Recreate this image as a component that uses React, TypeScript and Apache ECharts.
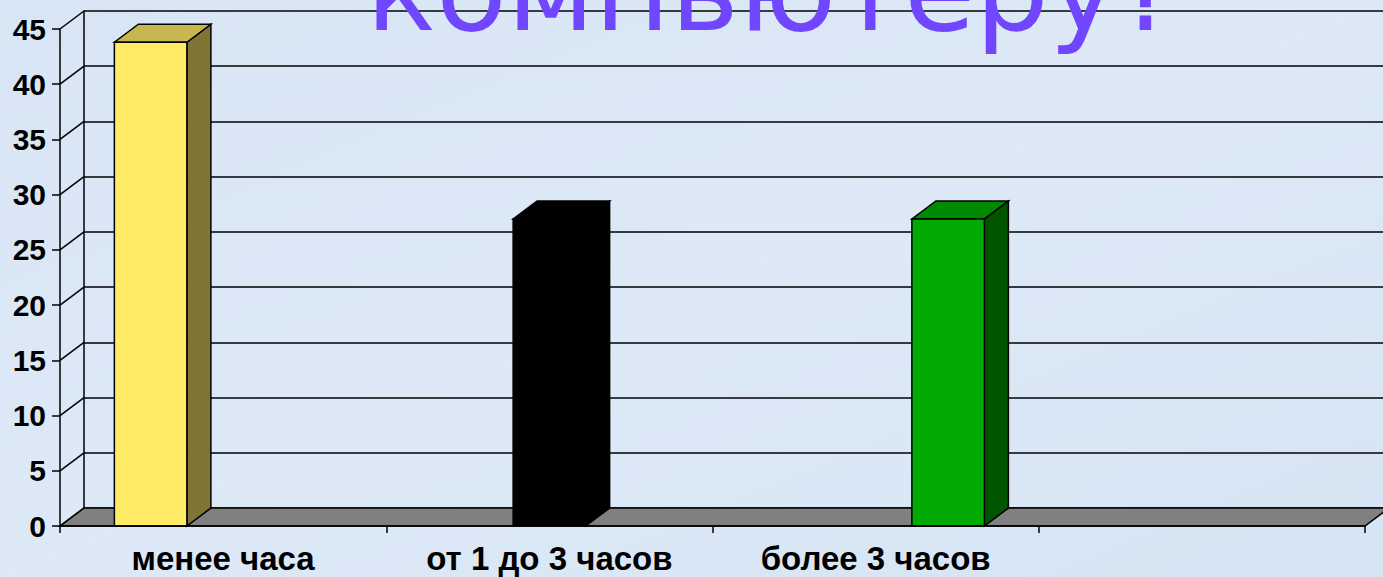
import React, { useEffect, useRef } from "react";
import * as echarts from "echarts";

const categories = ["менее часа", "от 1 до 3 часов", "более 3 часов", ""];
const barValues = [43.8, 27.8, 27.8];
const barCategory = [0, 1, 2];
const barSlots = [-1, 0, 1];
const frontColors = ["#FFEB66", "#000000", "#00AA00"];
const topColors = ["#C8B64E", "#000000", "#008A00"];
const sideColors = ["#807532", "#000000", "#005500"];
const yMin = 0;
const yMax = 45;
const yStep = 5;
const yTicks = [0, 5, 10, 15, 20, 25, 30, 35, 40, 45];
const titleText = "компьютеру?";

const DX = 24;
const DY = -18;

export default function App() {
  const ref = useRef<HTMLDivElement>(null);
  useEffect(() => {
    if (!ref.current) return;
    const chart = echarts.init(ref.current, undefined, { renderer: "svg" });
    const font = "'Liberation Sans', Arial, sans-serif";
    const option: any = {
      animation: false,
      backgroundColor: {
        type: "linear",
        x: 0,
        y: 0,
        x2: 1,
        y2: 1,
        colorStops: [
          { offset: 0, color: "#d8e5f4" },
          { offset: 0.5, color: "#dde9f7" },
          { offset: 1, color: "#d6e4f3" },
        ],
      },
      grid: [
        { left: 60, right: 18, top: 29, bottom: 51, outerBoundsMode: "none", containLabel: false },
        { left: 84, right: 0, top: 11, bottom: 69, outerBoundsMode: "none", containLabel: false },
      ],
      xAxis: [
        {
          type: "category",
          gridIndex: 0,
          data: categories,
          boundaryGap: true,
          axisLine: { show: true, lineStyle: { color: "#000", width: 1.5 } },
          axisTick: { show: true, length: 7, interval: 0, lineStyle: { color: "#000", width: 1.5 } },
          axisLabel: {
            interval: 0,
            margin: 17,
            color: "#000",
            fontFamily: font,
            fontWeight: "bold",
            fontSize: 33,
            lineHeight: 30,
          },
          splitLine: { show: false },
          z: 5,
        },
        {
          type: "category",
          gridIndex: 1,
          data: categories,
          show: false,
        },
      ],
      yAxis: [
        {
          type: "value",
          gridIndex: 0,
          min: yMin,
          max: yMax,
          interval: yStep,
          axisLine: { show: true, lineStyle: { color: "#000", width: 1.5 } },
          axisTick: { show: true, length: 8, lineStyle: { color: "#000", width: 1.5 } },
          axisLabel: {
            margin: 14,
            color: "#000",
            fontFamily: font,
            fontWeight: "bold",
            fontSize: 30,
            padding: [8, 0, 0, 0],
          },
          splitLine: { show: false },
          z: 5,
        },
        {
          type: "value",
          gridIndex: 1,
          min: yMin,
          max: yMax,
          interval: yStep,
          axisLine: { show: true, lineStyle: { color: "#000", width: 1.5 } },
          axisTick: { show: false },
          axisLabel: { show: false },
          splitLine: { show: true, lineStyle: { color: "#000", width: 1.5 } },
        },
      ],
      graphic: [
        {
          type: "text",
          left: 366,
          top: -69,
          z: 100,
          style: {
            text: titleText,
            fill: "#7146FF",
            font: "normal 116px 'DejaVu Sans', sans-serif",
          },
        },
      ],
      series: [
        {
          type: "custom",
          xAxisIndex: 0,
          yAxisIndex: 0,
          z: 1,
          data: [[0, 0]],
          renderItem: (params: any, api: any) => {
            const cs = params.coordSys;
            const y0 = api.coord([0, 0])[1];
            return {
              type: "polygon",
              shape: {
                points: [
                  [cs.x, y0],
                  [cs.x + cs.width, y0],
                  [cs.x + cs.width + DX, y0 + DY],
                  [cs.x + DX, y0 + DY],
                ],
              },
              style: { fill: "#808080", stroke: "#000", lineWidth: 1.5 },
            };
          },
        },
        {
          type: "custom",
          xAxisIndex: 0,
          yAxisIndex: 0,
          z: 1,
          data: yTicks.map((v) => [0, v]),
          renderItem: (params: any, api: any) => {
            const cs = params.coordSys;
            const y = api.coord([0, api.value(1)])[1];
            return {
              type: "line",
              shape: { x1: cs.x, y1: y, x2: cs.x + DX, y2: y + DY },
              style: { stroke: "#000", lineWidth: 1.5 },
            };
          },
        },
        {
          type: "custom",
          xAxisIndex: 0,
          yAxisIndex: 0,
          z: 3,
          data: barValues.map((v, i) => [barCategory[i], v, i]),
          renderItem: (params: any, api: any) => {
            const cat = api.value(0);
            const v = api.value(1);
            const idx = api.value(2);
            const band = api.size([1, 0])[0];
            const w = (band * 2) / 9;
            const base = api.coord([cat, 0]);
            const top = api.coord([cat, v]);
            const x0 = base[0] + barSlots[idx] * w - w / 2;
            const x1 = x0 + w;
            const y0 = base[1];
            const yt = top[1];
            const stroke = "#000";
            return {
              type: "group",
              children: [
                {
                  type: "polygon",
                  shape: { points: [[x1, yt], [x1 + DX, yt + DY], [x1 + DX, y0 + DY], [x1, y0]] },
                  style: { fill: sideColors[idx], stroke, lineWidth: 1.5 },
                },
                {
                  type: "polygon",
                  shape: { points: [[x0, yt], [x1, yt], [x1 + DX, yt + DY], [x0 + DX, yt + DY]] },
                  style: { fill: topColors[idx], stroke, lineWidth: 1.5 },
                },
                {
                  type: "rect",
                  shape: { x: x0, y: yt, width: w, height: y0 - yt },
                  style: { fill: frontColors[idx], stroke, lineWidth: 1.5 },
                },
              ],
            };
          },
        },
      ],
    };
    chart.setOption(option);
    return () => chart.dispose();
  }, []);
  return (
    <div
      ref={ref}
      style={{ position: "fixed", left: 0, top: 0, width: 1383, height: 577 }}
    />
  );
}
